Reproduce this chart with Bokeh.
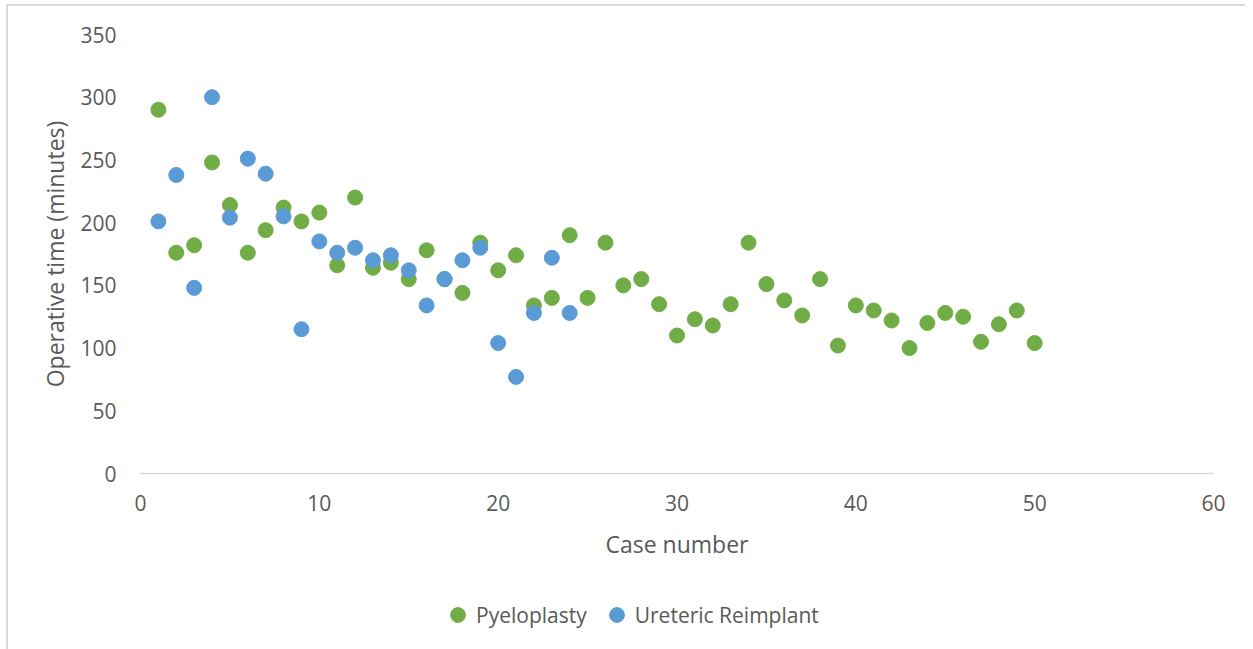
from bokeh.plotting import figure
from bokeh.layouts import column
from bokeh.models import Range1d, Legend, LegendItem, FixedTicker
from bokeh.embed import file_html
from bokeh.resources import INLINE

cases_pyelo = list(range(1, 51))
pyeloplasty = [290, 176, 182, 248, 214, 176, 194, 212, 201, 208,
               166, 220, 164, 168, 155, 178, 155, 144, 184, 162,
               174, 134, 140, 190, 140, 184, 150, 155, 135, 110,
               123, 118, 135, 184, 151, 138, 126, 155, 102, 134,
               130, 122, 100, 120, 128, 125, 105, 119, 130, 104]

cases_ureteric = list(range(1, 25))
ureteric = [201, 238, 148, 300, 204, 251, 239, 205, 115, 185,
            176, 180, 170, 174, 162, 134, 155, 170, 180, 104,
            77, 128, 172, 128]

series_names = ["Pyeloplasty", "Ureteric Reimplant"]
x_ticks = [0, 10, 20, 30, 40, 50, 60]
y_ticks = [0, 50, 100, 150, 200, 250, 300, 350]

GREEN = "#70AD47"
BLUE = "#5B9BD5"
TEXT = "#595959"
FONT = "Open Sans"
BORDER = "#DADADA"

W = 1245
H1, H2 = 580, 69
FL, FW = 140, 1073
FT, FH = 34, 439

p = figure(width=W, height=H1, output_backend="svg", toolbar_location=None,
           x_range=Range1d(0, 60), y_range=Range1d(0, 350),
           min_border_left=FL, min_border_right=W - FL - FW,
           min_border_top=FT, min_border_bottom=H1 - FT - FH)
p.outline_line_color = None
p.border_fill_color = None
p.background_fill_color = None
p.xgrid.grid_line_color = None
p.ygrid.grid_line_color = None

r1 = p.scatter(cases_pyelo, pyeloplasty, size=15, color=GREEN, line_color=GREEN)
r2 = p.scatter(cases_ureteric, ureteric, size=15, color=BLUE, line_color=BLUE)

for ax in (p.xaxis[0], p.yaxis[0]):
    ax.major_tick_line_color = None
    ax.minor_tick_line_color = None
    ax.major_tick_out = 0
    ax.major_tick_in = 0
    ax.minor_tick_out = 0
    ax.minor_tick_in = 0
    ax.major_label_text_font = FONT
    ax.major_label_text_font_size = "21px"
    ax.major_label_text_color = TEXT
    ax.axis_label_text_font = FONT
    ax.axis_label_text_font_size = "23px"
    ax.axis_label_text_font_style = "normal"
    ax.axis_label_text_color = TEXT

p.xaxis.ticker = FixedTicker(ticks=x_ticks)
p.yaxis.ticker = FixedTicker(ticks=y_ticks)
p.xaxis.axis_label = "Case number"
p.yaxis.axis_label = "Operative time (minutes)"
p.xaxis.axis_line_color = "#D9D9D9"
p.xaxis.axis_line_width = 1.5
p.yaxis.axis_line_color = None
p.xaxis.major_label_standoff = 21
p.xaxis.axis_label_standoff = 14
p.yaxis.major_label_standoff = 24
p.yaxis.axis_label_standoff = 6

# legend strip below the chart: same series drawn off-screen, only the legend shows
p2 = figure(width=W, height=H2, output_backend="svg", toolbar_location=None,
            x_axis_type=None, y_axis_type=None,
            x_range=Range1d(0, 60), y_range=Range1d(-2000, -1000),
            min_border=0)
p2.outline_line_color = None
p2.border_fill_color = None
p2.background_fill_color = None
p2.xgrid.grid_line_color = None
p2.ygrid.grid_line_color = None
l1 = p2.scatter(cases_pyelo, pyeloplasty, size=15, color=GREEN, line_color=GREEN)
l2 = p2.scatter(cases_ureteric, ureteric, size=15, color=BLUE, line_color=BLUE)

legend = Legend(items=[LegendItem(label=series_names[0], renderers=[l1]),
                       LegendItem(label=series_names[1], renderers=[l2])],
                orientation="horizontal", location=(299, 16),
                glyph_width=37, glyph_height=37, label_standoff=0,
                spacing=11, padding=0, margin=0,
                border_line_color=None, background_fill_alpha=0,
                label_text_font=FONT, label_text_font_size="21px",
                label_text_color=TEXT)
p2.add_layout(legend, "center")

layout = column(p, p2, styles={
    "background-color": "white",
    "background-image": f"linear-gradient({BORDER},{BORDER}), linear-gradient({BORDER},{BORDER})",
    "background-size": "2px 100%, 100% 2px",
    "background-position": "6px 5px, 6px 4px",
    "background-repeat": "no-repeat",
})

open("out.html", "w").write(file_html(layout, INLINE))
